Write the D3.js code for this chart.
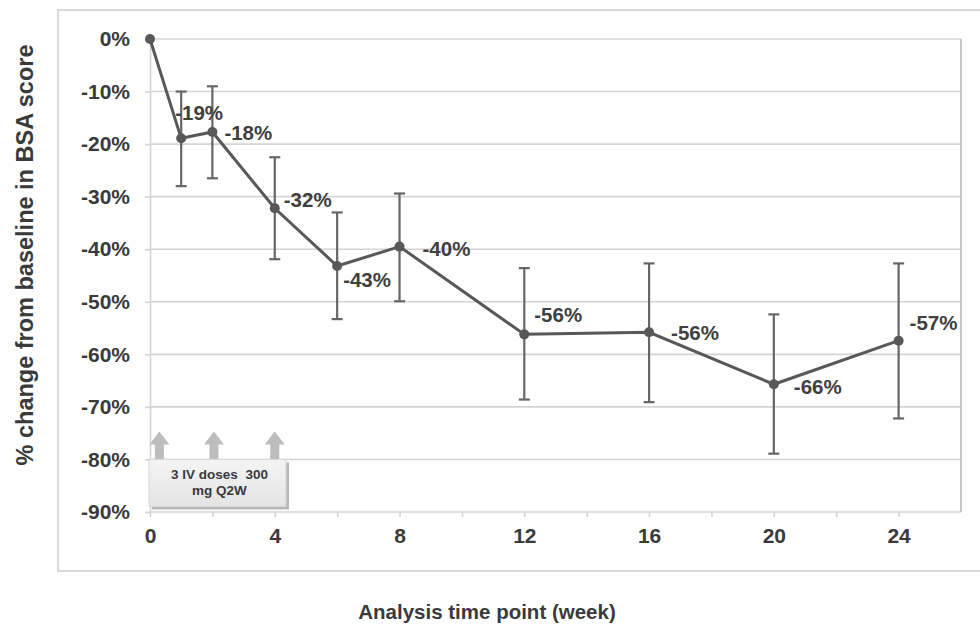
<!DOCTYPE html>
<html>
<head>
<meta charset="utf-8">
<script src="https://cdn.jsdelivr.net/npm/d3@7"></script>
<style>
  body { margin: 0; background: #fff; }
  svg { display: block; font-family: 'Liberation Sans', Arial, sans-serif; }
</style>
</head>
<body>
<div id="chart"></div>
<script>
// data
var weeks = [0, 1, 2, 4, 6, 8, 12, 16, 20, 24]
var meanChange = [0, -18.9, -17.7, -32.2, -43.2, -39.5, -56.2, -55.8, -65.7, -57.4]
var errLow = [null, -28, -26.5, -41.9, -53.3, -49.9, -68.6, -69.1, -78.9, -72.2]
var errHigh = [null, -10, -9, -22.5, -33, -29.4, -43.6, -42.7, -52.4, -42.7]
var pointLabels = ['', '-19%', '-18%', '-32%', '-43%', '-40%', '-56%', '-56%', '-66%', '-57%']
var yTicks = [0, -10, -20, -30, -40, -50, -60, -70, -80, -90]
var xTickLabels = [0, 4, 8, 12, 16, 20, 24]
var doseWeeks = [0.3, 2.05, 4]
var doseNote = ['3 IV doses  300', 'mg Q2W']

// label offsets from each point, in px (layout only)
var labelOffset = [
  [0, 0], [-6, -26], [12, 1], [9, -8], [6, 14], [23, 2],
  [10, -20], [22, 1], [20, 3], [11, -18]
]

var width = 980
var height = 625
var margin = { left: 150, right: 19, top: 39, bottom: 113 }

var svg = d3.select('#chart').append('svg')
  .attr('width', width)
  .attr('height', height)

// outer frame
svg.append('rect')
  .attr('x', 58).attr('y', 10)
  .attr('width', 930).attr('height', 561)
  .attr('fill', 'none')
  .attr('stroke', '#d9d9d9')
  .attr('stroke-width', 2)

var x = d3.scaleLinear().domain([0, 26]).range([margin.left, width - margin.right])
var y = d3.scaleLinear().domain([-90, 0]).range([height - margin.bottom, margin.top])

var g = svg.append('g')

// gridlines
g.selectAll('line.grid')
  .data(yTicks)
  .enter().append('line')
  .attr('class', 'grid')
  .attr('x1', x(0)).attr('x2', x(26))
  .attr('y1', function (d) { return y(d) })
  .attr('y2', function (d) { return y(d) })
  .attr('stroke', '#d4d4d4')
  .attr('stroke-width', 1.6)

// right border of plot area
g.append('line')
  .attr('x1', x(26)).attr('x2', x(26))
  .attr('y1', y(0)).attr('y2', y(-90))
  .attr('stroke', '#c8c8c8')
  .attr('stroke-width', 2)

// y axis
var yAxis = g.append('g')
  .attr('transform', 'translate(' + x(0) + ',0)')
  .call(d3.axisLeft(y).tickValues(yTicks).tickSize(5).tickPadding(15)
    .tickFormat(function (d) { return d + '%' }))
yAxis.select('.domain').attr('stroke', '#d4d4d4').attr('stroke-width', 1.6)
yAxis.selectAll('.tick line').attr('stroke', '#d4d4d4').attr('stroke-width', 1.6)
yAxis.selectAll('.tick text')
  .attr('fill', '#3a3a3a')
  .style('font-size', '21px')
  .style('font-weight', 'bold')

// x axis
var xAxis = g.append('g')
  .attr('transform', 'translate(0,' + y(-90) + ')')
  .call(d3.axisBottom(x).tickValues(d3.range(0, 25, 2)).tickSize(5).tickPadding(11)
    .tickFormat(function (d) { return xTickLabels.indexOf(d) > -1 ? d : '' }))
xAxis.select('.domain').remove()
xAxis.selectAll('.tick line').attr('stroke', '#d4d4d4').attr('stroke-width', 1.6)
xAxis.selectAll('.tick text')
  .attr('fill', '#3a3a3a')
  .style('font-size', '21px')
  .style('font-weight', 'bold')

// dose arrows
var arrowTip = y(-74.7)
var arrowBase = y(-80)
g.selectAll('path.dose')
  .data(doseWeeks)
  .enter().append('path')
  .attr('class', 'dose')
  .attr('fill', '#bdbdbd')
  .attr('d', function (d) {
    var cx = x(d)
    var headY = arrowTip + 13
    return 'M' + cx + ',' + arrowTip +
      'L' + (cx + 10) + ',' + headY +
      'L' + (cx + 4.5) + ',' + headY +
      'L' + (cx + 4.5) + ',' + arrowBase +
      'L' + (cx - 4.5) + ',' + arrowBase +
      'L' + (cx - 4.5) + ',' + headY +
      'L' + (cx - 10) + ',' + headY + 'Z'
  })

// dose note box
var defs = svg.append('defs')
var grad = defs.append('linearGradient')
  .attr('id', 'boxfill').attr('x1', 0).attr('y1', 0).attr('x2', 0).attr('y2', 1)
grad.append('stop').attr('offset', '0%').attr('stop-color', '#f4f4f4')
grad.append('stop').attr('offset', '100%').attr('stop-color', '#e4e4e4')

var boxX = x(0) - 1
var boxY = y(-80)
var boxW = 137
var boxH = 47
g.append('rect')
  .attr('x', boxX + 3).attr('y', boxY + 3)
  .attr('width', boxW).attr('height', boxH)
  .attr('fill', '#b8b8b8')
g.append('rect')
  .attr('x', boxX).attr('y', boxY)
  .attr('width', boxW).attr('height', boxH)
  .attr('fill', 'url(#boxfill)')
  .attr('stroke', '#d8d8d8')
  .attr('stroke-width', 1)
g.selectAll('text.note')
  .data(doseNote)
  .enter().append('text')
  .attr('class', 'note')
  .attr('x', boxX + boxW / 2 + 2)
  .attr('y', function (d, i) { return boxY + 20 + i * 16 })
  .attr('text-anchor', 'middle')
  .attr('fill', '#3a3a3a')
  .style('font-size', '13.5px')
  .style('font-weight', 'bold')
  .style('white-space', 'pre')
  .text(function (d) { return d })

// error bars
var bars = weeks.map(function (w, i) {
  return { week: w, lo: errLow[i], hi: errHigh[i] }
}).filter(function (d) { return d.lo !== null })

g.selectAll('line.err')
  .data(bars)
  .enter().append('line')
  .attr('class', 'err')
  .attr('x1', function (d) { return x(d.week) })
  .attr('x2', function (d) { return x(d.week) })
  .attr('y1', function (d) { return y(d.lo) })
  .attr('y2', function (d) { return y(d.hi) })
  .attr('stroke', '#666')
  .attr('stroke-width', 2.2)

bars.forEach(function (d) {
  [d.lo, d.hi].forEach(function (v) {
    g.append('line')
      .attr('x1', x(d.week) - 5.5).attr('x2', x(d.week) + 5.5)
      .attr('y1', y(v)).attr('y2', y(v))
      .attr('stroke', '#666')
      .attr('stroke-width', 2.2)
  })
})

// mean line
var points = weeks.map(function (w, i) { return [w, meanChange[i]] })
g.append('path')
  .datum(points)
  .attr('fill', 'none')
  .attr('stroke', '#585858')
  .attr('stroke-width', 3)
  .attr('d', d3.line()
    .x(function (d) { return x(d[0]) })
    .y(function (d) { return y(d[1]) }))

g.selectAll('circle.pt')
  .data(points)
  .enter().append('circle')
  .attr('class', 'pt')
  .attr('cx', function (d) { return x(d[0]) })
  .attr('cy', function (d) { return y(d[1]) })
  .attr('r', 5)
  .attr('fill', '#585858')

// point labels
g.selectAll('text.lbl')
  .data(points)
  .enter().append('text')
  .attr('class', 'lbl')
  .attr('x', function (d, i) { return x(d[0]) + labelOffset[i][0] })
  .attr('y', function (d, i) { return y(d[1]) + labelOffset[i][1] })
  .attr('dy', '0.35em')
  .attr('fill', '#404040')
  .style('font-size', '20.5px')
  .style('font-weight', 'bold')
  .text(function (d, i) { return pointLabels[i] })

// axis titles
svg.append('text')
  .attr('transform', 'translate(33,255) rotate(-90)')
  .attr('text-anchor', 'middle')
  .attr('fill', '#3a3a3a')
  .style('font-size', '23.5px')
  .style('font-weight', 'bold')
  .text('% change from baseline in BSA score')

svg.append('text')
  .attr('x', 487)
  .attr('y', 619)
  .attr('text-anchor', 'middle')
  .attr('fill', '#3a3a3a')
  .style('font-size', '20.5px')
  .style('font-weight', 'bold')
  .text('Analysis time point (week)')
</script>
</body>
</html>
